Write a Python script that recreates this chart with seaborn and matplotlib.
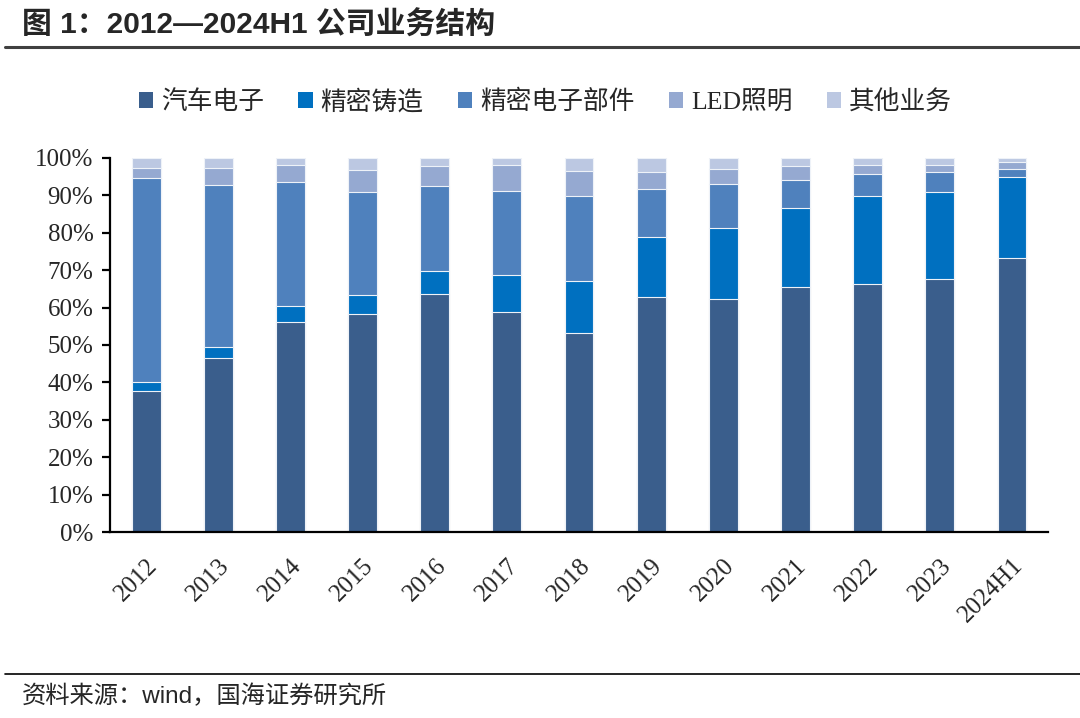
import numpy as np
import pandas as pd
import matplotlib
matplotlib.use("Agg")
import matplotlib.pyplot as plt
import seaborn as sns
from matplotlib.patches import Patch
from matplotlib.lines import Line2D
from matplotlib.ticker import PercentFormatter

years = ["2012", "2013", "2014", "2015", "2016", "2017", "2018",
         "2019", "2020", "2021", "2022", "2023", "2024H1"]

# 各业务占比 (%)
auto_elec = [37.6, 46.4, 56.1, 58.2, 63.6, 58.9, 53.1, 62.9, 62.3, 65.6, 66.4, 67.6, 73.2]
casting = [2.4, 3.1, 4.2, 5.2, 6.3, 9.9, 13.9, 15.9, 18.9, 21.0, 23.4, 23.2, 21.8]
elec_parts = [54.7, 43.3, 33.2, 27.4, 22.7, 22.5, 22.8, 12.8, 11.8, 7.6, 5.9, 5.5, 2.1]
led = [2.7, 4.6, 4.6, 6.0, 5.3, 6.8, 6.8, 4.7, 4.1, 3.7, 2.4, 1.8, 1.8]
other = [2.6, 2.6, 1.9, 3.2, 2.1, 1.9, 3.4, 3.7, 2.9, 2.1, 1.9, 1.9, 1.1]

names = ["汽车电子", "精密铸造", "精密电子部件", "LED照明", "其他业务"]
colors = ["#3A5E8C", "#0070C0", "#4F81BD", "#95A9D1", "#BCC8E2"]

sns.set_style("white")
serif_cjk = ["Liberation Serif", "Noto Sans CJK SC"]
sans_cjk = ["Liberation Sans", "Noto Sans CJK SC"]

df = pd.DataFrame({"year": years, "汽车电子": auto_elec, "精密铸造": casting,
                   "精密电子部件": elec_parts, "LED照明": led, "其他业务": other})
cum = df[names].cumsum(axis=1) / 100

fig = plt.figure(figsize=(10.8, 7.18), dpi=100)
ax = fig.add_axes([0.1019, 0.259, 0.8685, 0.521])

# 堆叠：从顶层累计值开始逐层覆盖
for name, c in reversed(list(zip(names, colors))):
    sns.barplot(x=df["year"], y=cum[name], color=c, width=0.4, ax=ax,
                edgecolor="#EEF2F8", linewidth=0.8, saturation=1)

ax.set_xlim(-0.5, len(years) - 0.5)
ax.set_ylim(0, 1)
ax.set_yticks(np.arange(0, 1.01, 0.1))
ax.yaxis.set_major_formatter(PercentFormatter(1.0, decimals=0))
ax.set_xlabel("")
ax.set_ylabel("")
for s in ["top", "right"]:
    ax.spines[s].set_visible(False)
for s in ["left", "bottom"]:
    ax.spines[s].set_color("black")
    ax.spines[s].set_linewidth(1.6)

ax.set_xticks(np.arange(-0.5, len(years), 1.0), minor=True)
ax.tick_params(axis="x", which="major", length=0, pad=16)
ax.tick_params(axis="x", which="minor", length=6, width=1.6, direction="out", color="black")
ax.tick_params(axis="y", length=6, width=1.6, direction="out", color="black", pad=6, left=True)

for lab in ax.get_yticklabels():
    lab.set_family(serif_cjk)
    lab.set_fontsize(18)
for lab in ax.get_xticklabels():
    lab.set_family(serif_cjk)
    lab.set_fontsize(18)
    lab.set_rotation(45)
    lab.set_ha("right")
    lab.set_va("top")
    lab.set_rotation_mode("anchor")

handles = [Patch(facecolor=c, edgecolor="none") for c in colors]
fig.legend(handles, names, loc="center", bbox_to_anchor=(0.505, 0.858), ncol=5,
           frameon=False, prop={"family": serif_cjk, "size": 18.5},
           handlelength=0.55, handleheight=0.55, handletextpad=0.3, columnspacing=1.35)

fig.text(0.02, 0.965, "图 1：2012—2024H1 公司业务结构", family=sans_cjk,
         fontsize=21.5, fontweight="bold", va="center", ha="left")
fig.add_artist(Line2D([0.005, 1.0], [0.934, 0.934], color="#404040", lw=2.2))
fig.add_artist(Line2D([0.005, 1.0], [0.061, 0.061], color="black", lw=1.2))
fig.text(0.02, 0.030, "资料来源：wind，国海证券研究所", family=sans_cjk,
         fontsize=17.5, va="center", ha="left")

fig.savefig("out.png", dpi=100, facecolor="white")
